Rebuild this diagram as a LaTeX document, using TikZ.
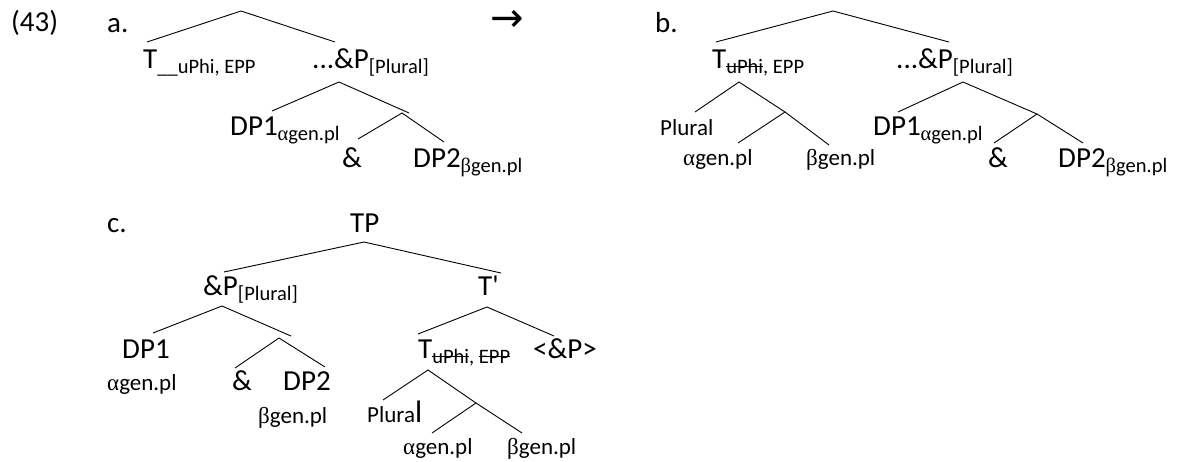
\documentclass[tikz,border=0pt]{standalone}
\usepackage{fontspec}
\setmainfont{Carlito}
\newfontfamily\grkfont{Liberation Serif}
\newfontfamily\arrowfont{DejaVu Sans}
\newcommand{\galpha}{{\grkfont α}}
\newcommand{\gbeta}{{\grkfont β}}
\newcommand{\lowsub}[1]{\raisebox{-5pt}{\fontsize{20.5}{22}\selectfont #1}}
\newcommand{\crossout}[1]{\setbox0\hbox{#1}\rlap{\rule[0.28em]{\wd0}{0.9pt}}\box0}

\begin{document}
\begin{tikzpicture}[x=1pt, y=-1pt,
  lbl/.style={anchor=base west, inner sep=0pt, font=\fontsize{29}{31}\selectfont},
  sm/.style={lbl, font=\fontsize{23}{25}\selectfont},
  branch/.style={line width=0.9pt}]
\useasboundingbox (0,0) rectangle (1178,461);

% Example numbers
\node[lbl] (num) at (11,31) {(43)};
\node[lbl] (la) at (107,32) {a.};
\node[lbl] (lb) at (655,32) {b.};
\node[lbl] (lc) at (107,232) {c.};
\node[inner sep=0pt, font=\arrowfont\fontsize{40}{42}\selectfont] (arr) at (507,21) {→};

% Tree a
\coordinate (a-root) at (241,11);
\coordinate (a-T) at (147,42);
\coordinate (a-P) at (335,42);
\coordinate (a-Pb) at (339,82);
\coordinate (a-DP1) at (272,111);
\coordinate (a-X) at (409,113);
\coordinate (a-Xb) at (402,113);
\coordinate (a-amp) at (358,139);
\coordinate (a-DP2) at (444,142);
\node[lbl] (aT) at (143,68) {T\lowsub{\_\_uPhi, EPP}};
\node[lbl] (aP) at (312,68) {...\&P\lowsub{[Plural]}};
\node[lbl] (aDP1) at (230,135) {DP1\lowsub{\galpha gen.pl}};
\node[lbl] (aamp) at (342,167) {\&};
\node[lbl] (aDP2) at (413,167) {DP2\lowsub{\gbeta gen.pl}};
\draw[branch] (a-T) -- (a-root) -- (a-P);
\draw[branch] (a-DP1) -- (a-Pb) -- (a-X);
\draw[branch] (a-amp) -- (a-Xb) -- (a-DP2);

% Tree b
\coordinate (b-root) at (833,11);
\coordinate (b-T) at (716,42);
\coordinate (b-P) at (949,42);
\coordinate (b-Tb) at (739,82);
\coordinate (b-Pl) at (695,112);
\coordinate (b-Y) at (785,112);
\coordinate (b-al) at (738,143);
\coordinate (b-be) at (829,145);
\coordinate (b-Pb) at (963,82);
\coordinate (b-DP1) at (898,112);
\coordinate (b-X) at (1037,114);
\coordinate (b-amp) at (994,143);
\coordinate (b-DP2) at (1083,143);
\node[lbl] (bT) at (712,68) {T\lowsub{\crossout{uPhi}, EPP}};
\node[lbl] (bP) at (896,68) {...\&P\lowsub{[Plural]}};
\node[sm] (bPl) at (660,135) {Plural};
\node[sm] (bal) at (683,165) {\galpha gen.pl};
\node[sm] (bbe) at (806,165) {\gbeta gen.pl};
\node[lbl] (bDP1) at (873,135) {DP1\lowsub{\galpha gen.pl}};
\node[lbl] (bamp) at (988,167) {\&};
\node[lbl] (bDP2) at (1058,167) {DP2\lowsub{\gbeta gen.pl}};
\draw[branch] (b-T) -- (b-root) -- (b-P);
\draw[branch] (b-Pl) -- (b-Tb) -- (b-Y);
\draw[branch] (b-al) -- (b-Y) -- (b-be);
\draw[branch] (b-DP1) -- (b-Pb) -- (b-X);
\draw[branch] (b-amp) -- (b-X) -- (b-DP2);

% Tree c
\coordinate (c-root) at (364,242);
\coordinate (c-P) at (224,272);
\coordinate (c-Tbar) at (501,273);
\coordinate (c-Pb) at (222,306);
\coordinate (c-DP1) at (153,333);
\coordinate (c-X) at (291,336);
\coordinate (c-Xb) at (279,338);
\coordinate (c-amp) at (235,368);
\coordinate (c-DP2) at (325,367);
\coordinate (c-Tbarb) at (487,307);
\coordinate (c-T) at (418,334);
\coordinate (c-tr) at (554,336);
\coordinate (c-Tb) at (428,370);
\coordinate (c-Pl) at (383,400);
\coordinate (c-Y) at (476,403);
\coordinate (c-al) at (432,433);
\coordinate (c-be) at (522,433);
\node[lbl] (cTP) at (350,232) {TP};
\node[lbl] (cP) at (203,295) {\&P\lowsub{[Plural]}};
\node[lbl] (cTbar) at (478,295) {T\textquotesingle};
\node[lbl] (cDP1) at (122,358) {DP1};
\node[sm] (cal) at (107,390) {\galpha gen.pl};
\node[lbl] (camp) at (232,390) {\&};
\node[lbl] (cDP2) at (283,390) {DP2};
\node[sm] (cbe) at (258,423) {\gbeta gen.pl};
\node[lbl] (cT) at (418,358) {T\lowsub{\crossout{uPhi}, \crossout{EPP}}};
\node[lbl] (ctr) at (533,358) {<\&P>};
\node[sm] (cPl) at (367,422) {Plura{\fontsize{31}{33}\selectfont l}};
\node[sm] (cal2) at (403,454) {\galpha gen.pl};
\node[sm] (cbe2) at (507,454) {\gbeta gen.pl};
\draw[branch] (c-P) -- (c-root) -- (c-Tbar);
\draw[branch] (c-DP1) -- (c-Pb) -- (c-X);
\draw[branch] (c-amp) -- (c-Xb) -- (c-DP2);
\draw[branch] (c-T) -- (c-Tbarb) -- (c-tr);
\draw[branch] (c-Pl) -- (c-Tb) -- (c-Y);
\draw[branch] (c-al) -- (c-Y) -- (c-be);
\end{tikzpicture}
\end{document}
